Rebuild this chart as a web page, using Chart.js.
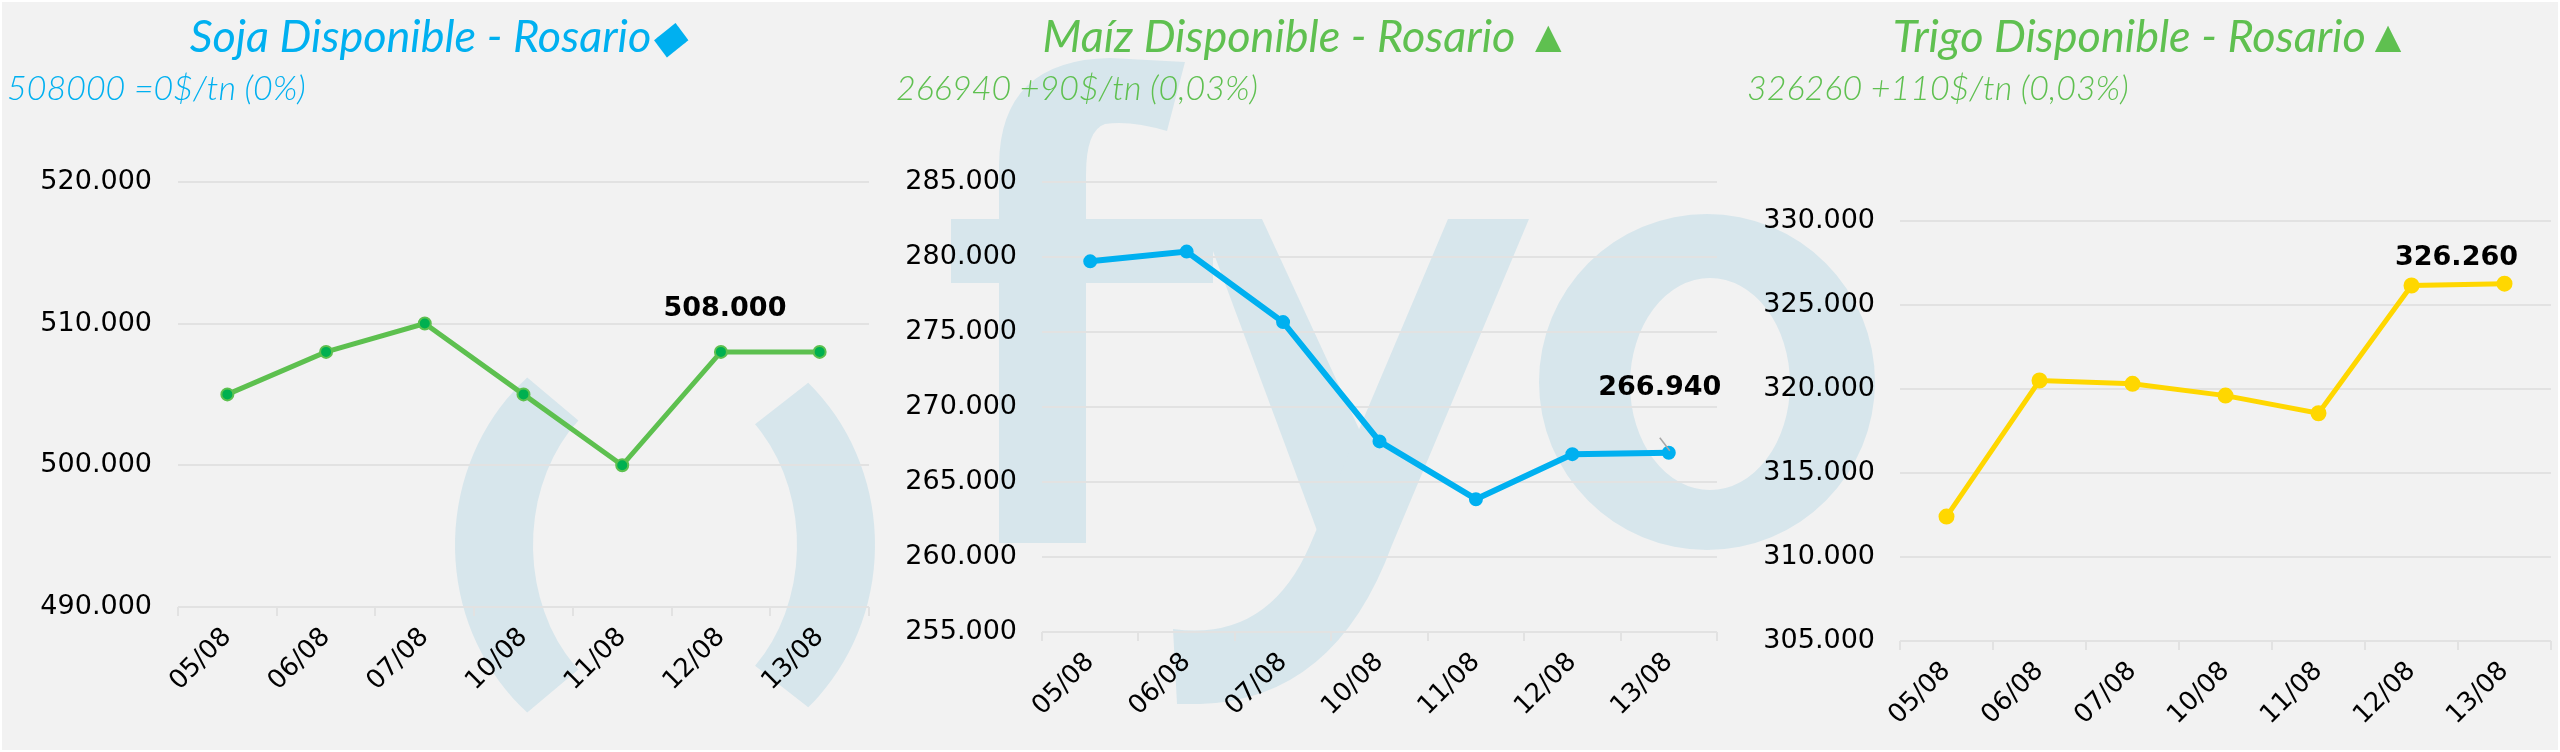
<!DOCTYPE html>
<html><head><meta charset="utf-8">
<script src="https://cdn.jsdelivr.net/npm/chart.js@4.4.1/dist/chart.umd.min.js"></script>
<style>
html,body{margin:0;padding:0;background:#fff;}
#wrap{position:relative;width:2560px;height:752px;background:#F2F2F2;overflow:hidden;}
.panel{position:absolute;top:0;height:752px;}
#frame{position:absolute;left:0;top:0;width:2560px;height:752px;box-sizing:border-box;border:2px solid #fff;pointer-events:none;}
</style></head><body>
<div id="wrap">
<canvas id="wm" width="2560" height="752" style="position:absolute;left:0;top:0"></canvas>
<div class="panel" style="left:0;width:880px"><canvas id="c1" width="880" height="752"></canvas></div>
<div class="panel" style="left:880px;width:860px"><canvas id="c2" width="860" height="752"></canvas></div>
<div class="panel" style="left:1740px;width:820px"><canvas id="c3" width="820" height="752"></canvas></div>
<div id="frame"></div>
</div>
<script>
// ---- data ----
const categories = ['05/08','06/08','07/08','10/08','11/08','12/08','13/08'];
const sojaValues  = [505000, 508000, 510000, 505000, 500000, 508000, 508000];
const maizValues  = [279700, 280350, 275650, 267700, 263850, 266850, 266940];
const trigoValues = [312400, 320500, 320300, 319600, 318550, 326150, 326260];
const sojaTitle = 'Soja Disponible - Rosario\u25C6';
const maizTitle = 'Ma\u00EDz Disponible - Rosario \u25B2';
const trigoTitle = 'Trigo Disponible - Rosario\u25B2';
const sojaSub = '508000 =0$/tn (0%)';
const maizSub = '266940 +90$/tn (0,03%)';
const trigoSub = '326260 +110$/tn (0,03%)';
const sojaRange = [490000, 520000, 10000];
const maizRange = [255000, 285000, 5000];
const trigoRange = [305000, 330000, 5000];

// ---- watermark ----
(function(){
  const c = document.getElementById('wm').getContext('2d');
  c.fillStyle = '#D7E6EC';
  const cx = 665, cy = 545;
  function ringArc(a0, a1){
    c.beginPath();
    c.ellipse(cx, cy, 210, 222, 0, a0, a1, false);
    c.ellipse(cx, cy, 132, 165, 0, a1, a0, true);
    c.closePath(); c.fill();
  }
  const d = Math.PI/180;
  ringArc(131*d, 229*d);
  ringArc(-47*d, 47*d);
  // f
  c.beginPath();
  c.moveTo(999,543); c.lineTo(999,165);
  c.quadraticCurveTo(1000,60,1110,58); c.lineTo(1185,62); c.lineTo(1167,131);
  c.quadraticCurveTo(1130,120,1105,124); c.quadraticCurveTo(1086,130,1086,175);
  c.lineTo(1086,543); c.closePath(); c.fill();
  c.fillRect(951,219,262,64);
  // y
  c.beginPath();
  c.moveTo(1201,219); c.lineTo(1262,219); c.lineTo(1378,470); c.lineTo(1328,560); c.closePath(); c.fill();
  c.beginPath();
  c.moveTo(1448,219); c.lineTo(1529,219); c.lineTo(1392,545);
  c.quadraticCurveTo(1335,700,1200,704); c.lineTo(1177,704); c.lineTo(1173,629);
  c.quadraticCurveTo(1268,642,1310,545); c.closePath(); c.fill();
  // o
  c.beginPath();
  c.ellipse(1707,382,168,168,0,0,Math.PI*2);
  c.ellipse(1710,384,80,106,0,0,Math.PI*2,true);
  c.fill('evenodd');
})();

// ---- helpers ----
function fmt(v){ return v.toLocaleString('de-DE'); }
const valueLabel = {
  id:'valueLabel',
  afterDatasetsDraw(chart, args, o){
    const el = chart.getDatasetMeta(0).data[o.index];
    const v = chart.data.datasets[0].data[o.index];
    const ctx = chart.ctx;
    ctx.save();
    if (o.leader){
      ctx.strokeStyle = '#A6A6A6'; ctx.lineWidth = 1.5;
      ctx.beginPath(); ctx.moveTo(el.x-9, el.y-15); ctx.lineTo(el.x+1, el.y-2); ctx.stroke();
    }
    ctx.font = 'bold 27px "DejaVu Sans"';
    ctx.fillStyle = '#000';
    ctx.textAlign = 'center'; ctx.textBaseline = 'middle';
    ctx.fillText(fmt(v), el.x + o.dx, el.y + o.dy);
    ctx.restore();
  }
};

function makeChart(id, cfg){
  return new Chart(document.getElementById(id), {
    type:'line',
    data:{ labels: categories, datasets:[{
      data: cfg.values, borderColor: cfg.line, borderWidth: cfg.lw,
      pointRadius: cfg.pr, pointBackgroundColor: cfg.pfill, pointBorderColor: cfg.line,
      pointBorderWidth: 2, tension:0, fill:false
    }]},
    plugins:[valueLabel],
    options:{
      responsive:false, animation:false, devicePixelRatio:1, events:[],
      layout:{ padding:{ left:cfg.padL, right:cfg.padR, top:0, bottom:0 } },
      plugins:{
        legend:{display:false}, tooltip:{enabled:false},
        title:{ display:true, text:cfg.title, color:cfg.tcolor,
          font:{family:'Lato', style:'italic', weight:'normal', size:45}, padding:{top:10,bottom:0} },
        subtitle:{ display:true, text:cfg.sub, color:cfg.tcolor, align:'start',
          font:{family:'Lato', style:'italic', weight:300, size:34}, padding:{top:5,bottom:cfg.subPB} },
        valueLabel: cfg.label
      },
      scales:{
        x:{ offset:true,
          grid:{ display:true, drawOnChartArea:false, drawTicks:true, tickLength:9, offset:true, color:'#E2E2E2', lineWidth:2 },
          border:{ display:false },
          ticks:{ minRotation:45, maxRotation:45, padding:6, color:'#000', font:{family:'DejaVu Sans', size:26} },
          afterFit(s){ s.height = cfg.xH; }
        },
        y:{ min:cfg.range[0], max:cfg.range[1],
          grid:{ color:'#E2E2E2', lineWidth:2, drawTicks:false },
          border:{ display:false },
          ticks:{ stepSize:cfg.range[2], padding:cfg.yPad, color:'#000', font:{family:'DejaVu Sans', size:27},
            callback:(v)=>fmt(v) },
          afterFit(s){ s.width = cfg.yW; }
        }
      }
    }
  });
}

makeChart('c1', { values:sojaValues, line:'#5DC04F', pfill:'#00B050', lw:5, pr:6,
  title:sojaTitle, sub:sojaSub, tcolor:'#00B0F0', padL:7, padR:11, subPB:72, xH:145, yW:171, yPad:26,
  range:sojaRange, label:{index:5, dx:4, dy:-43} });
makeChart('c2', { values:maizValues, line:'#00B0F0', pfill:'#00B0F0', lw:6, pr:6,
  title:maizTitle, sub:maizSub, tcolor:'#5FC050', padL:16, padR:23, subPB:72, xH:120, yW:146, yPad:25,
  range:maizRange, label:{index:6, dx:-9, dy:-65, leader:true} });
makeChart('c3', { values:trigoValues, line:'#FFD700', pfill:'#FFD700', lw:5, pr:7,
  title:trigoTitle, sub:trigoSub, tcolor:'#5FC050', padL:7, padR:4, subPB:111, xH:111, yW:153, yPad:25,
  range:trigoRange, label:{index:6, dx:-48, dy:-26} });
</script>
</body></html>
